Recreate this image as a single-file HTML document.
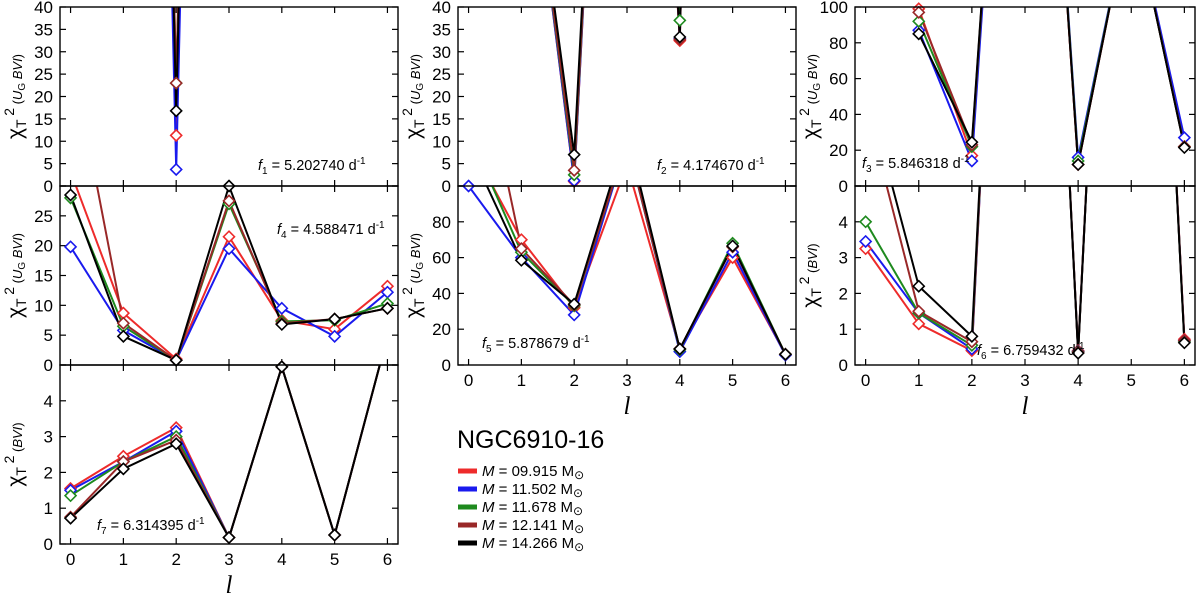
<!DOCTYPE html>
<html><head><meta charset="utf-8"><style>
html,body{margin:0;padding:0;background:#fff;}
svg{display:block;font-family:"Liberation Sans",sans-serif;}
</style></head><body>
<svg id="chart" width="1200" height="596" viewBox="0 0 1200 596"></svg>
<script>
const degrees = [0,1,2,3,4,5,6];
const seriesNames = ["M = 09.915","M = 11.502","M = 11.678","M = 12.141","M = 14.266"];
const seriesColors = ["#ee2b2b","#1a1aee","#1e8a1e","#992828","#000000"];
// values per panel: rows = series (red, blue, green, brown, black), columns = l 0..6
const f1Values = [
 [500,500,11.3,500,500,500,500],
 [500,500,3.7,500,500,500,500],
 [500,500,23,500,500,500,500],
 [500,500,23,500,500,500,500],
 [500,500,16.8,500,500,500,500]];
const f2Values = [
 [200,95,1,230,32.5,500,500],
 [200,95,1.2,230,33,500,500],
 [200,95,2.5,230,37,500,500],
 [200,95,3.5,230,32.8,500,500],
 [200,95,7,230,33.3,500,500]];
const f3Values = [
 [500,99,17,450,12,160,22],
 [500,87,14,450,16,160,27],
 [500,92,22,450,14,160,22],
 [500,97,23,450,12,160,22],
 [500,85,24.5,450,12,160,21.5]];
const f4Values = [
 [32.4,8.7,1.0,21.5,7.5,6.0,13.2],
 [19.8,5.8,0.8,19.5,9.5,4.8,12.2],
 [28,6.5,0.8,27,7.3,7.5,10.3],
 [53,7,0.8,27.5,7,7.7,9.5],
 [28.5,4.8,0.8,30,6.8,7.7,9.5]];
const f5Values = [
 [125,70,32,112,9,60,6],
 [100,60,28,125,7.5,63,5.5],
 [130,63,33,125,8.5,68,6],
 [205,65,33.5,125,9,66,6],
 [122,58.5,34,130,9,66.5,6]];
const f6Values = [
 [3.25,1.15,0.4,30,0.4,30,0.72],
 [3.45,1.45,0.45,30,0.38,30,0.68],
 [4.0,1.45,0.55,30,0.37,30,0.65],
 [7.3,1.5,0.65,30,0.36,30,0.68],
 [7.8,2.2,0.8,30,0.33,30,0.62]];
const f7Values = [
 [1.55,2.45,3.25,0.18,4.95,0.25,5.8],
 [1.5,2.3,3.15,0.18,4.95,0.25,5.8],
 [1.35,2.3,3.0,0.18,4.95,0.25,5.8],
 [0.75,2.3,2.9,0.18,4.95,0.25,5.8],
 [0.72,2.1,2.8,0.18,4.95,0.25,5.8]];

const NS="http://www.w3.org/2000/svg";
const svg=document.getElementById('chart');
function mk(tag,attrs,parent){const e=document.createElementNS(NS,tag);for(const k in attrs)e.setAttribute(k,attrs[k]);(parent||svg).appendChild(e);return e;}

const panels=[
 {id:'f1',x0:60,x1:398,y0:7,y1:186,ymax:40,step:5,labTop:true,data:f1Values,xl:false,sub:'1',fv:'5.202740',ax:258,ay:170,band:'UG'},
 {id:'f4',x0:60,x1:398,y0:186,y1:365,ymax:30,step:5,labTop:false,data:f4Values,xl:false,sub:'4',fv:'4.588471',ax:277,ay:234,band:'UG'},
 {id:'f7',x0:60,x1:398,y0:365,y1:544,ymax:5,step:1,labTop:false,data:f7Values,xl:true,sub:'7',fv:'6.314395',ax:97,ay:530,band:'B'},
 {id:'f2',x0:458,x1:796,y0:7,y1:186,ymax:40,step:5,labTop:true,data:f2Values,xl:false,sub:'2',fv:'4.174670',ax:657,ay:170,band:'UG'},
 {id:'f5',x0:458,x1:796,y0:186,y1:365,ymax:100,step:20,labTop:false,data:f5Values,xl:true,sub:'5',fv:'5.878679',ax:482,ay:348,band:'UG'},
 {id:'f3',x0:855,x1:1195,y0:7,y1:186,ymax:100,step:20,labTop:true,data:f3Values,xl:false,sub:'3',fv:'5.846318',ax:862,ay:168,band:'UG'},
 {id:'f6',x0:855,x1:1195,y0:186,y1:365,ymax:5,step:1,labTop:false,data:f6Values,xl:true,sub:'6',fv:'6.759432',ax:977,ay:355,band:'B'}
];
const defs=mk('defs',{});
panels.forEach(p=>{
 const g=mk('g',{});
 
 
 const xs=l=>p.x0+(l+0.2)/6.4*(p.x1-p.x0);
 const ys=v=>p.y1-v/p.ymax*(p.y1-p.y0);
 const cp=mk('clipPath',{id:'clip-'+p.id},defs);
 mk('rect',{x:p.x0,y:p.y0,width:p.x1-p.x0,height:p.y1-p.y0},cp);
 for(let v=0;v<=p.ymax+1e-9;v+=p.step){
  const y=ys(v);
  mk('line',{x1:p.x0,x2:p.x0+6,y1:y,y2:y,stroke:'#000','stroke-width':1.2},g);
  mk('line',{x1:p.x1,x2:p.x1-6,y1:y,y2:y,stroke:'#000','stroke-width':1.2},g);
  const isTop=Math.abs(v-p.ymax)<1e-9;
  if(isTop && !p.labTop) continue;
  const t=mk('text',{x:p.x0-7,y:y+6,'text-anchor':'end','font-size':17},g);
  t.textContent=String(Math.round(v*10)/10);
  
  
 }
 degrees.forEach(l=>{
  const x=xs(l);
  mk('line',{x1:x,x2:x,y1:p.y1,y2:p.y1-6,stroke:'#000','stroke-width':1.2},g);
  mk('line',{x1:x,x2:x,y1:p.y0,y2:p.y0+6,stroke:'#000','stroke-width':1.2},g);
  if(p.xl){
   const t=mk('text',{x:x,y:p.y1+21,'text-anchor':'middle','font-size':17},g);
   t.textContent=String(l);
   
   
  }
 });
 p.data.forEach((row,si)=>{
  const pts=row.map((v,i)=>xs(degrees[i]).toFixed(1)+','+ys(v).toFixed(1)).join(' ');
  const pl=mk('polyline',{points:pts,fill:'none',stroke:seriesColors[si],'stroke-width':2,'clip-path':'url(#clip-'+p.id+')'},g);
  
  
 });
 p.data.forEach((row,si)=>{
  row.forEach((v,i)=>{
   if(v>p.ymax+1e-9) return;
   const x=xs(degrees[i]),y=ys(v),r=5.5;
   const d=mk('polygon',{points:`${x},${y-r} ${x+r},${y} ${x},${y+r} ${x-r},${y}`,fill:'#fff',stroke:seriesColors[si],'stroke-width':1.6},g);
   
   
  });
 });
 mk('rect',{x:p.x0,y:p.y0,width:p.x1-p.x0,height:p.y1-p.y0,fill:'none',stroke:'#000','stroke-width':1.4},g);
 const a=mk('text',{x:p.ax,y:p.ay,'font-size':14.5},g);
 
 
 a.innerHTML=`<tspan font-style="italic">f</tspan><tspan font-size="10" dy="4">${p.sub}</tspan><tspan dy="-4"> = ${p.fv} d</tspan><tspan font-size="10" dy="-6">-1</tspan>`;
 const cx=p.x0-38, cy=(p.y0+p.y1)/2;
 const yt=mk('text',{x:cx,y:cy,'text-anchor':'middle','font-size':21,transform:`rotate(-90 ${cx} ${cy})`},g);
 
 
 const bandStr = p.band==='UG'
  ? `<tspan font-style="italic">U</tspan><tspan font-size="10" dy="3">G</tspan><tspan dy="-3" font-style="italic"> BVI</tspan>`
  : `<tspan font-style="italic">BVI</tspan>`;
 yt.innerHTML=`χ<tspan font-size="14" dy="4">T</tspan><tspan font-size="14" dy="-12"> 2</tspan><tspan font-size="13" dy="8"> (</tspan><tspan font-size="13">${bandStr}</tspan><tspan font-size="13">)</tspan>`;
 if(p.xl){
  const xt=mk('text',{x:(p.x0+p.x1)/2,y:p.y1+49,'text-anchor':'middle','font-size':25,'font-style':'italic','font-family':'Liberation Serif, serif'},g);
  xt.textContent='l';
  
  
 }
});
const lg=mk('g',{});


const ttl=mk('text',{x:457,y:448,'font-size':25},lg);
ttl.textContent='NGC6910-16';


seriesNames.forEach((n,i)=>{
 const y=471+i*18;
 const sw=mk('rect',{x:458,y:y-2.5,width:19,height:5,fill:seriesColors[i]},lg);
 
 
 const t=mk('text',{x:482,y:y+5,'font-size':15},lg);
 
 
 t.innerHTML=`<tspan font-style="italic">M</tspan>${n.slice(1)} M<tspan font-size="12" dy="3">⊙</tspan>`;
});
</script>
</body></html>
